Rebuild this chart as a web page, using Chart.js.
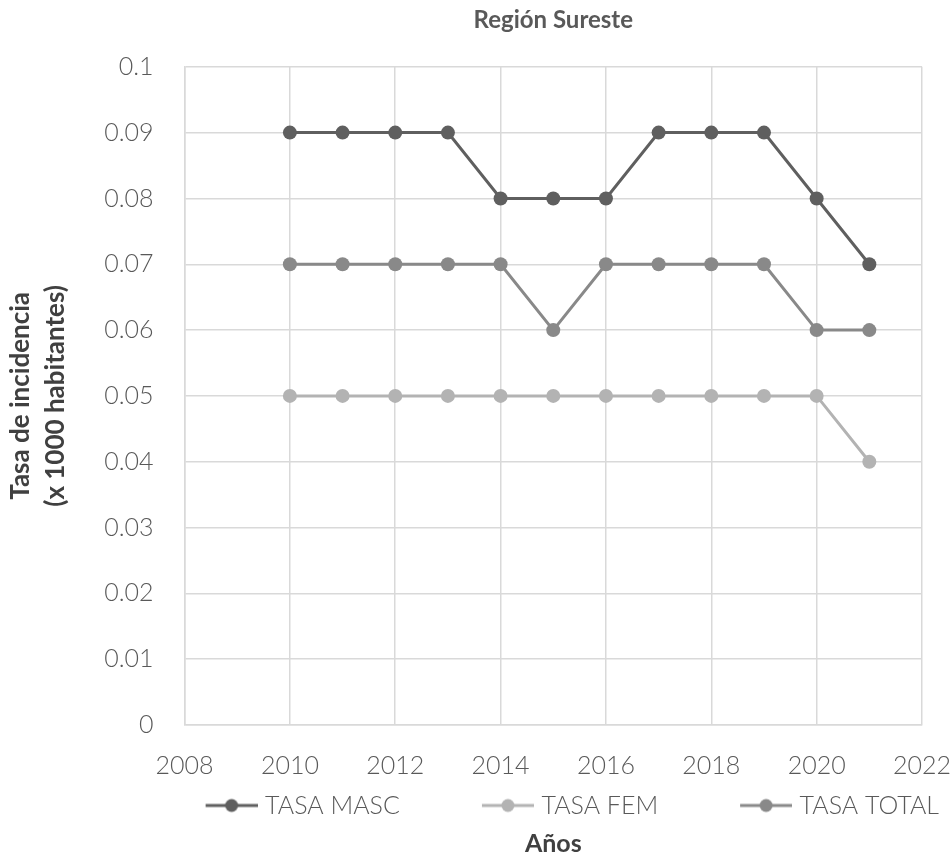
<!DOCTYPE html>
<html lang="es">
<head>
<meta charset="utf-8">
<title>Región Sureste</title>
<script src="https://cdn.jsdelivr.net/npm/chart.js@4"></script>
<style>
  body { margin: 0; background: #ffffff; }
  #myChart { display: block; }
</style>
</head>
<body>
<canvas id="myChart" width="952" height="859"></canvas>
<script>
'use strict';

//data
const years = [2010, 2011, 2012, 2013, 2014, 2015, 2016, 2017, 2018, 2019, 2020, 2021];
const tasaMasc = [0.09, 0.09, 0.09, 0.09, 0.08, 0.08, 0.08, 0.09, 0.09, 0.09, 0.08, 0.07];
const tasaFem = [0.05, 0.05, 0.05, 0.05, 0.05, 0.05, 0.05, 0.05, 0.05, 0.05, 0.05, 0.04];
const tasaTotal = [0.07, 0.07, 0.07, 0.07, 0.07, 0.06, 0.07, 0.07, 0.07, 0.07, 0.06, 0.06];
const seriesNames = ['TASA MASC', 'TASA FEM', 'TASA TOTAL'];
const seriesColors = ['#5f5f5f', '#b3b3b3', '#898989'];

const fontFamily = 'Lato, "Open Sans", sans-serif';
const legendBoxWidth = 116;

//pairs year/value for the linear x axis
function toPoints(values) {
  return years.map((year, i) => ({ x: year, y: values[i] }));
}

//little line with a dot for the legend (drawn at the right side of the box)
function legendIcon(color) {
  const c = document.createElement('canvas');
  c.width = legendBoxWidth + 10;
  c.height = 16;
  const ctx = c.getContext('2d');
  ctx.strokeStyle = color;
  ctx.lineWidth = 3;
  ctx.beginPath();
  ctx.moveTo(c.width - 52, 8);
  ctx.lineTo(c.width, 8);
  ctx.stroke();
  ctx.fillStyle = color;
  ctx.beginPath();
  ctx.arc(c.width - 26, 8, 6.5, 0, Math.PI * 2);
  ctx.fill();
  return c;
}

const allValues = [tasaMasc, tasaFem, tasaTotal];
const datasets = allValues.map((values, i) => ({
  label: seriesNames[i],
  data: toPoints(values),
  borderColor: seriesColors[i],
  backgroundColor: seriesColors[i],
  borderWidth: 3,
  pointRadius: 7,
  pointHoverRadius: 7,
  pointBorderWidth: 0,
  tension: 0
}));

const tickFont = { family: fontFamily, size: 25, weight: 300, lineHeight: 1 };
const gridColor = '#d9d9d9';

const config = {
  type: 'line',
  data: { datasets: datasets },
  options: {
    responsive: false,
    animation: false,
    layout: { padding: 0 },
    scales: {
      x: {
        type: 'linear',
        min: 2008,
        max: 2022,
        ticks: {
          stepSize: 2,
          padding: 28,
          color: '#595959',
          font: tickFont,
          callback: (v) => String(v)
        },
        grid: { color: gridColor, lineWidth: 1.5, drawTicks: false },
        border: { color: gridColor, width: 1.5 },
        afterFit: (scale) => {
          scale.paddingRight = 30;
          scale.height = 55;
        }
      },
      //only carries the "Años" title below the legend
      x2: {
        type: 'linear',
        axis: 'x',
        position: 'bottom',
        weight: 2000,
        min: 2008,
        max: 2022,
        ticks: { display: false },
        grid: { display: false, drawTicks: false },
        border: { display: false },
        title: {
          display: true,
          text: 'Años',
          color: '#404040',
          font: { family: fontFamily, size: 25, weight: 'bold', lineHeight: 1 },
          padding: { top: 3, bottom: 3 }
        }
      },
      y: {
        min: 0,
        max: 0.1,
        ticks: {
          stepSize: 0.01,
          padding: 31,
          color: '#595959',
          font: tickFont,
          callback: (v) => String(+v.toFixed(2))
        },
        grid: { color: gridColor, lineWidth: 1.5, drawTicks: false },
        border: { color: gridColor, width: 1.5 },
        title: {
          display: true,
          text: ['Tasa de incidencia', '(x 1000 habitantes)'],
          color: '#404040',
          font: { family: fontFamily, size: 26, weight: 'bold', lineHeight: 1.35 },
          padding: { top: 3, bottom: 0 }
        }
      }
    },
    plugins: {
      title: {
        display: true,
        fullSize: false,
        text: 'Región Sureste',
        color: '#595959',
        font: { family: fontFamily, size: 24, weight: 'bold', lineHeight: 1.2 },
        padding: { top: 6, bottom: 32 }
      },
      legend: {
        position: 'bottom',
        align: 'end',
        labels: {
          usePointStyle: true,
          pointStyleWidth: legendBoxWidth,
          padding: 13,
          color: '#595959',
          font: { family: fontFamily, size: 25, weight: 300 },
          generateLabels: (chart) => {
            const items = Chart.defaults.plugins.legend.labels.generateLabels(chart);
            items.forEach((item) => {
              item.pointStyle = legendIcon(seriesColors[item.datasetIndex]);
            });
            return items;
          }
        }
      },
      tooltip: { enabled: false }
    }
  }
};

const myChart = new Chart(document.getElementById('myChart'), config);
</script>
</body>
</html>
